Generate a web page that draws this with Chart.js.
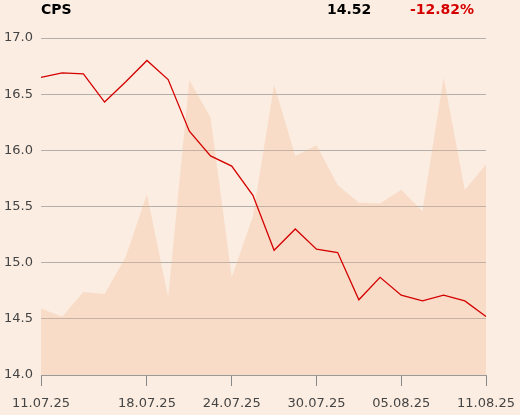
<!DOCTYPE html>
<html>
<head>
<meta charset="utf-8">
<script src="https://cdn.jsdelivr.net/npm/chart.js@4.4.1/dist/chart.umd.min.js"></script>
<style>
  body { margin: 0; background: #fbede1; font-family: "DejaVu Sans", sans-serif; }
  .wrap { position: relative; width: 520px; height: 415px; }
  .head { position: absolute; top: 1px; font-size: 14px; font-weight: bold; color: #000; }
  #name { left: 41px; }
  #last { left: 327px; }
  #change { left: 410px; color: #d40000; }
</style>
</head>
<body>
<div class="wrap">
  <div class="head" id="name">CPS</div>
  <div class="head" id="last">14.52</div>
  <div class="head" id="change">-12.82%</div>
  <canvas id="chart" width="520" height="415"></canvas>
</div>
<script>
const dates = [
  "11.07.25", "14.07.25", "15.07.25", "16.07.25", "17.07.25", "18.07.25",
  "21.07.25", "22.07.25", "23.07.25", "24.07.25", "25.07.25", "28.07.25",
  "29.07.25", "30.07.25", "31.07.25", "01.08.25", "04.08.25", "05.08.25",
  "06.08.25", "07.08.25", "08.08.25", "11.08.25",
];
const shownDates = ["11.07.25", "18.07.25", "24.07.25", "30.07.25", "05.08.25", "11.08.25"];
const prices = [
  16.65, 16.69, 16.68, 16.43, 16.61, 16.80, 16.63, 16.17, 15.95, 15.86, 15.60,
  15.11, 15.30, 15.12, 15.09, 14.67, 14.87, 14.71, 14.66, 14.71, 14.66, 14.52,
];
const volumes = [
  197, 173, 246, 240, 351, 536, 231, 875, 764, 290, 470,
  861, 650, 682, 564, 511, 509, 550, 486, 883, 549, 625,
];

const ctx = document.querySelector("#chart").getContext("2d");

new Chart(ctx, {
  type: "line",
  data: {
    labels: dates,
    datasets: [
      {
        data: prices,
        borderColor: "#d40000",
        borderWidth: 1.3,
        pointRadius: 0,
        tension: 0,
        yAxisID: "y",
        order: 0,
      },
      {
        data: volumes,
        backgroundColor: "rgba(241, 183, 144, 0.3)",
        borderWidth: 0,
        pointRadius: 0,
        tension: 0,
        fill: "origin",
        yAxisID: "y1",
        order: 1,
      },
    ],
  },
  options: {
    responsive: false,
    animation: false,
    layout: { padding: { top: 38, right: 34, left: 0, bottom: 0 } },
    plugins: { legend: { display: false }, tooltip: { enabled: false } },
    scales: {
      x: {
        offset: false,
        border: { display: true, color: "#999" },
        grid: {
          drawOnChartArea: false,
          tickLength: 11,
          color: (c) => (shownDates.includes(dates[c.index]) ? "#888" : "rgba(0,0,0,0)"),
        },
        ticks: {
          autoSkip: false,
          maxRotation: 0,
          padding: 10,
          color: "#444",
          font: { family: "DejaVu Sans", size: 13 },
          callback: (v, i) => (shownDates.includes(dates[i]) ? dates[i] : ""),
        },
        afterFit: (scale) => {
          scale.height = 40;
          scale.paddingLeft = 0;
          scale.paddingRight = 0;
        },
      },
      y: {
        min: 14,
        max: 17,
        border: { display: false },
        grid: { color: "#b3b0ac", drawTicks: false },
        ticks: {
          stepSize: 0.5,
          padding: 8,
          color: "#444",
          font: { family: "DejaVu Sans", size: 13 },
          callback: (v) => v.toFixed(1),
        },
        afterFit: (scale) => { scale.width = 41; },
      },
      y1: {
        display: false,
        min: 0,
        max: 1000,
      },
    },
  },
});
</script>
</body>
</html>
